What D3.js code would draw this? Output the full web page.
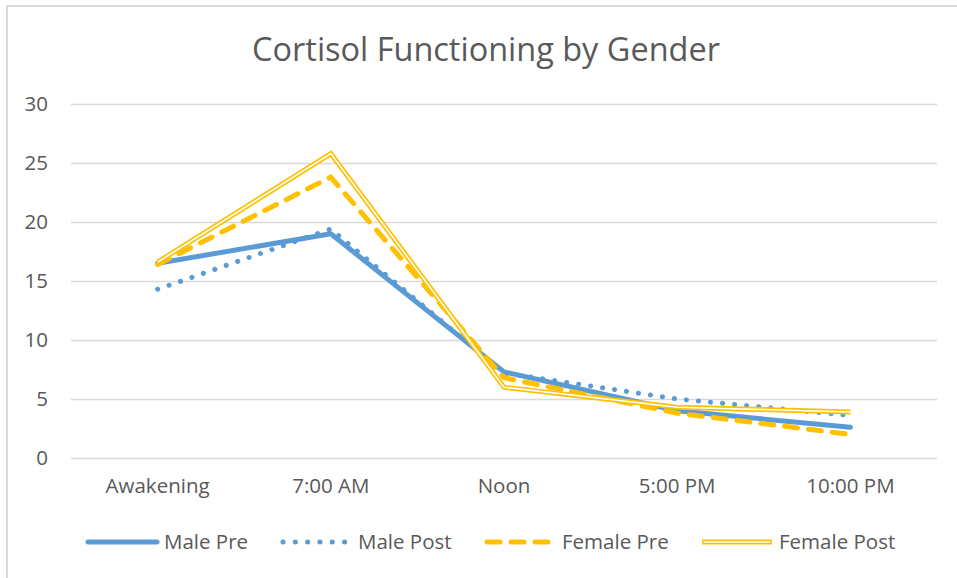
<!DOCTYPE html>
<html><head><meta charset="utf-8">
<script src="https://cdn.jsdelivr.net/npm/d3@7"></script>
<style>
html,body{margin:0;padding:0;background:#fff;}
svg{display:block;font-family:"Open Sans",sans-serif;}
</style></head>
<body>
<svg id="c" width="957" height="578"></svg>
<script>
const categories = ["Awakening","7:00 AM","Noon","5:00 PM","10:00 PM"];
const malePre    = [16.5, 19.0, 7.3, 4.0, 2.6];
const malePost   = [14.3, 19.4, 7.2, 5.0, 3.6];
const femalePre  = [16.4, 23.8, 6.8, 3.8, 2.0];
const femalePost = [16.6, 25.8, 6.0, 4.3, 3.9];
const yTicks = [0,5,10,15,20,25,30];
const seriesNames = ["Male Pre","Male Post","Female Pre","Female Post"];

const BLUE="#5B9BD5", GOLD="#FFC000", TXT="#595959", GRID="#d9d9d9";
const svg=d3.select("#c");

svg.append("line").attr("x1",7).attr("x2",957).attr("y1",6).attr("y2",6).attr("stroke",GRID).attr("stroke-width",2);
svg.append("line").attr("x1",7).attr("x2",7).attr("y1",5).attr("y2",578).attr("stroke",GRID).attr("stroke-width",2);

const x=d3.scaleBand().domain(categories).range([71,937]);
const y=d3.scaleLinear().domain([0,30]).range([458,104]);
const cx=d=>x(d)+x.bandwidth()/2;

const title=svg.append("text").attr("x",486).attr("y",61).attr("text-anchor","middle")
  .attr("fill",TXT).style("font-size","28px").text("Cortisol Functioning by Gender");
{const w=title.node().getComputedTextLength(); title.style("font-size",(28*468/w)+"px");}

const yAxis=d3.axisLeft(y).tickValues(yTicks).tickSize(-(937-71)).tickPadding(23);
const gy=svg.append("g").attr("transform","translate(71,0)").call(yAxis);
gy.select(".domain").remove();
gy.selectAll(".tick line").attr("stroke",GRID).attr("stroke-width",1.3);
gy.selectAll(".tick text").attr("fill",TXT).style("font-size","20.5px").style("font-family","Open Sans");

const xAxis=d3.axisBottom(x).tickSize(0).tickPadding(20);
const gx=svg.append("g").attr("transform","translate(0,458)").call(xAxis);
gx.select(".domain").remove();
gx.selectAll(".tick text").attr("fill",TXT).style("font-size","20.5px").style("font-family","Open Sans");

const line=d3.line().x((d,i)=>cx(categories[i])).y(d=>y(d));
const g=svg.append("g");

function drawSeries(sel, data, kind){
  if(kind==="solid"){
    sel.append("path").attr("d",line(data)).attr("fill","none").attr("stroke",BLUE).attr("stroke-width",5).attr("stroke-linecap","round").attr("stroke-linejoin","round");
  } else if(kind==="dot"){
    sel.append("path").attr("d",line(data)).attr("fill","none").attr("stroke",BLUE).attr("stroke-width",5).attr("stroke-linecap","round").attr("stroke-dasharray","0.1,12");
  } else if(kind==="dash"){
    sel.append("path").attr("d",line(data)).attr("fill","none").attr("stroke",GOLD).attr("stroke-width",5).attr("stroke-linecap","round").attr("stroke-dasharray","13,11");
  } else {
    sel.append("path").attr("d",line(data)).attr("fill","none").attr("stroke",GOLD).attr("stroke-width",5);
    sel.append("path").attr("d",line(data)).attr("fill","none").attr("stroke","#fff").attr("stroke-width",1.6);
  }
}
drawSeries(g, malePre, "solid");
drawSeries(g, malePost, "dot");
drawSeries(g, femalePre, "dash");
drawSeries(g, femalePost, "double");

const kinds=["solid","dot","dash","double"];
const legX=[[88,157,164],[283,345,358],[487,548,562],[702,772,779]];
const legY=542;
const lg=svg.append("g");
seriesNames.forEach((n,i)=>{
  const [a,b,t]=legX[i];
  const sub=lg.append("g");
  const k=kinds[i];
  const ld=`M${a},${legY}L${b},${legY}`;
  if(k==="solid") sub.append("path").attr("d",ld).attr("stroke",BLUE).attr("stroke-width",5).attr("stroke-linecap","round");
  if(k==="dot") sub.append("path").attr("d",ld).attr("stroke",BLUE).attr("stroke-width",5).attr("stroke-linecap","round").attr("stroke-dasharray","0.1,12.2");
  if(k==="dash") sub.append("path").attr("d",ld).attr("stroke",GOLD).attr("stroke-width",5).attr("stroke-linecap","round").attr("stroke-dasharray","13,11");
  if(k==="double"){ sub.append("path").attr("d",ld).attr("stroke",GOLD).attr("stroke-width",5); sub.append("path").attr("d",`M${a+1.5},${legY}L${b-1.5},${legY}`).attr("stroke","#fff").attr("stroke-width",1.6);}
  sub.append("text").attr("x",t).attr("y",legY).attr("dy","0.35em").attr("fill",TXT).style("font-size","20.5px").text(n);
});
</script>
</body></html>
